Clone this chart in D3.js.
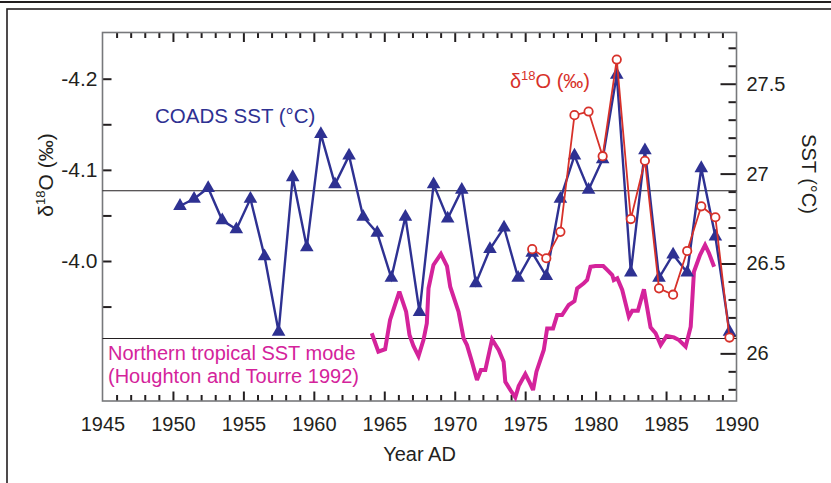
<!DOCTYPE html>
<html>
<head>
<meta charset="utf-8">
<script src="https://cdn.jsdelivr.net/npm/d3@7"></script>
<style>
  html, body { margin: 0; padding: 0; background: #fff; }
  svg { display: block; font-family: "Liberation Sans", Arial, Helvetica, sans-serif; }
</style>
</head>
<body>
<svg id="chart" width="831" height="483"></svg>
<script>
// Annual COADS sea-surface temperature (°C), 1950–1989
const sstYears = d3.range(1950, 1990);
const sstValues = [26.82, 26.86, 26.92, 26.74, 26.69, 26.86, 26.54, 26.12, 26.98, 26.59,
                   27.22, 26.94, 27.10, 26.76, 26.67, 26.42, 26.76, 26.23, 26.94, 26.75,
                   26.91, 26.39, 26.58, 26.70, 26.42, 26.56, 26.43, 26.86, 27.10, 26.91,
                   27.08, 27.55, 26.45, 27.13, 26.42, 26.55, 26.45, 27.03, 26.65, 26.12];

// Coral δ18O (‰), 1975–1989
const d18oYears = d3.range(1975, 1990);
const d18oValues = [-4.013, -4.003, -4.032, -4.160, -4.164, -4.115, -4.221, -4.046,
                    -4.110, -3.970, -3.963, -4.011, -4.060, -4.048, -3.916];

// Northern tropical SST mode (Houghton and Tourre 1992), drawn on the SST axis
const modeYears = [1964.11, 1964.58, 1965.06, 1965.41, 1966.07, 1966.55, 1966.79, 1967.07,
                   1967.43, 1967.78, 1968.02, 1968.14, 1968.49, 1969.02, 1969.45, 1969.68,
                   1970.27, 1970.63, 1970.87, 1971.22, 1971.58, 1971.86, 1972.17, 1972.65,
                   1973.12, 1973.47, 1973.59, 1973.95, 1974.30, 1974.54, 1975.01, 1975.32,
                   1975.56, 1975.80, 1976.32, 1976.56, 1976.98, 1977.27, 1977.62, 1978.09,
                   1978.50, 1978.69, 1979.16, 1979.40, 1979.64, 1979.99, 1980.54, 1980.82,
                   1981.18, 1981.29, 1981.54, 1981.89, 1982.36, 1982.60, 1983.00, 1983.43,
                   1983.90, 1984.26, 1984.62, 1985.04, 1985.56, 1985.92, 1986.39, 1986.75,
                   1986.98, 1987.41, 1987.77, 1988.05, 1988.41];
const modeValues = [26.112, 26.009, 26.023, 26.186, 26.343, 26.232, 26.102, 26.041,
                    25.985, 26.074, 26.167, 26.362, 26.492, 26.553, 26.486, 26.371,
                    26.232, 26.084, 26.046, 25.954, 25.852, 25.907, 25.907, 26.078,
                    26.019, 25.954, 25.842, 25.796, 25.755, 25.818, 25.885, 25.837,
                    25.796, 25.898, 26.019, 26.139, 26.139, 26.213, 26.213, 26.269,
                    26.291, 26.362, 26.390, 26.408, 26.482, 26.486, 26.486, 26.464,
                    26.436, 26.408, 26.418, 26.353, 26.204, 26.237, 26.237, 26.356,
                    26.145, 26.112, 26.046, 26.097, 26.089, 26.074, 26.037, 26.148,
                    26.454, 26.547, 26.603, 26.557, 26.482];

// Horizontal reference levels on the δ18O axis
const refLevels = [-4.077, -3.915];

// Tick values
const yearMajorTicks = d3.range(1945, 1995, 5);
const yearMinorTicks = d3.range(1946, 1990).filter(y => y % 5 !== 0);
const d18oTicks = [-4.2, -4.1, -4.0];
const d18oMinorTicks = [-4.15, -4.05, -3.95];
const sstTicks = [26, 26.5, 27, 27.5];
const sstMinorTicks = d3.range(258, 278).map(v => v / 10).filter(v => !sstTicks.includes(v));

const ink = "#231f20";
const blue = "#2e3192";
const red = "#d7312a";
const magenta = "#d4239b";

const svg = d3.select("#chart");

// Page frame
svg.append("line").attr("x1", 0).attr("x2", 831).attr("y1", 2).attr("y2", 2)
  .attr("stroke", ink).attr("stroke-width", 2);
svg.append("rect").attr("x", 7).attr("y", 9).attr("width", 900).attr("height", 600)
  .attr("fill", "none").attr("stroke", ink).attr("stroke-width", 1.6);

const plotLeft = 102.5, plotRight = 736.5, plotTop = 32.5, plotBottom = 401;
const x = d3.scaleLinear().domain([1945, 1990]).range([plotLeft, plotRight]);
const yL = d3.scaleLinear().domain([-3.8464, -4.2507]).range([plotBottom, plotTop]);
const yR = d3.scaleLinear().domain([25.735, 27.785]).range([plotBottom, plotTop]);

function styleAxis(g) {
  g.select(".domain").remove();
  g.selectAll(".tick line").attr("stroke", ink).attr("stroke-width", 2);
  g.selectAll(".tick text").attr("fill", ink).attr("font-size", 20)
    .attr("font-family", "Liberation Sans, Arial, sans-serif");
}

// Bottom axis: years
svg.append("g").attr("transform", `translate(0,${plotBottom})`)
  .call(d3.axisBottom(x).tickValues(yearMinorTicks).tickSizeInner(-6).tickSizeOuter(0).tickFormat(""))
  .call(styleAxis);
svg.append("g").attr("transform", `translate(0,${plotBottom})`)
  .call(d3.axisBottom(x).tickValues(yearMajorTicks).tickSizeInner(-9.5).tickSizeOuter(0)
    .tickPadding(16).tickFormat(d3.format("d")))
  .call(styleAxis)
  .call(g => g.selectAll(".tick").filter(d => d === 1945 || d === 1990).select("line").remove());

// Top axis: mirrored year ticks
svg.append("g").attr("transform", `translate(0,${plotTop})`)
  .call(d3.axisTop(x).tickValues(yearMinorTicks).tickSizeInner(-5.5).tickSizeOuter(0).tickFormat(""))
  .call(styleAxis);
svg.append("g").attr("transform", `translate(0,${plotTop})`)
  .call(d3.axisTop(x).tickValues(yearMajorTicks.filter(d => d > 1945 && d < 1990))
    .tickSizeInner(-9.5).tickSizeOuter(0).tickFormat(""))
  .call(styleAxis);

// Left axis: δ18O
svg.append("g").attr("transform", `translate(${plotLeft},0)`)
  .call(d3.axisLeft(yL).tickValues(d18oMinorTicks).tickSizeInner(-9).tickSizeOuter(0).tickFormat(""))
  .call(styleAxis);
svg.append("g").attr("transform", `translate(${plotLeft},0)`)
  .call(d3.axisLeft(yL).tickValues(d18oTicks).tickSizeInner(-9).tickSizeOuter(0)
    .tickPadding(5).tickFormat(d => d3.format(".1f")(d).replace("−", "-")))
  .call(styleAxis)
  .call(g => g.selectAll(".tick text").attr("font-size", 21));

// Right axis: SST
svg.append("g").attr("transform", `translate(${plotRight},0)`)
  .call(d3.axisRight(yR).tickValues(sstMinorTicks).tickSizeInner(-8).tickSizeOuter(0).tickFormat(""))
  .call(styleAxis);
svg.append("g").attr("transform", `translate(${plotRight},0)`)
  .call(d3.axisRight(yR).tickValues(sstTicks).tickSizeInner(-16).tickSizeOuter(0)
    .tickPadding(10).tickFormat(d => String(d)))
  .call(styleAxis);

// Plot frame
svg.append("rect").attr("x", plotLeft).attr("y", plotTop)
  .attr("width", plotRight - plotLeft).attr("height", plotBottom - plotTop)
  .attr("fill", "none").attr("stroke", "#77787b").attr("stroke-width", 1.6);

// Reference levels
svg.append("g").selectAll("line").data(refLevels).join("line")
  .attr("x1", plotLeft).attr("x2", plotRight)
  .attr("y1", d => yL(d)).attr("y2", d => yL(d))
  .attr("stroke", ink).attr("stroke-width", 1.1);

// Northern tropical SST mode
const modeData = modeYears.map((yr, i) => ({ yr, v: modeValues[i] }));
svg.append("path").datum(modeData)
  .attr("fill", "none").attr("stroke", magenta).attr("stroke-width", 4)
  .attr("stroke-linejoin", "miter").attr("stroke-miterlimit", 3)
  .attr("d", d3.line().x(d => x(d.yr)).y(d => yR(d.v)));

// COADS SST
const sstData = sstYears.map((yr, i) => ({ yr, v: sstValues[i] }));
svg.append("path").datum(sstData)
  .attr("fill", "none").attr("stroke", blue).attr("stroke-width", 2.4)
  .attr("d", d3.line().x(d => x(d.yr + 0.5)).y(d => yR(d.v)));
svg.append("g").selectAll("path").data(sstData).join("path")
  .attr("transform", d => `translate(${x(d.yr + 0.5)},${yR(d.v)})`)
  .attr("d", d3.symbol(d3.symbolTriangle, 80))
  .attr("fill", blue);

// δ18O
const d18oData = d18oYears.map((yr, i) => ({ yr, v: d18oValues[i] }));
svg.append("path").datum(d18oData)
  .attr("fill", "none").attr("stroke", red).attr("stroke-width", 1.8)
  .attr("d", d3.line().x(d => x(d.yr + 0.5)).y(d => yL(d.v)));
svg.append("g").selectAll("circle").data(d18oData).join("circle")
  .attr("cx", d => x(d.yr + 0.5)).attr("cy", d => yL(d.v)).attr("r", 4.2)
  .attr("fill", "#fff").attr("stroke", red).attr("stroke-width", 1.8);

// Axis titles
svg.append("text").attr("x", (plotLeft + plotRight) / 2).attr("y", 461)
  .attr("text-anchor", "middle").attr("font-size", 20).attr("fill", ink).text("Year AD");

const lt = svg.append("text").attr("transform", "translate(53,175) rotate(-90)")
  .attr("text-anchor", "middle").attr("font-size", 21).attr("fill", ink);
lt.append("tspan").text("δ");
lt.append("tspan").attr("font-size", 13).attr("dy", -8).text("18");
lt.append("tspan").attr("dy", 8).text("O (‰)");

svg.append("text").attr("transform", "translate(802,174) rotate(90)")
  .attr("text-anchor", "middle").attr("font-size", 20).attr("fill", ink).text("SST (°C)");

// Series labels
svg.append("text").attr("x", 155).attr("y", 123).attr("font-size", 20.5)
  .attr("fill", blue).text("COADS SST (°C)");

const rl = svg.append("text").attr("x", 590).attr("y", 88).attr("text-anchor", "end")
  .attr("font-size", 20).attr("fill", red);
rl.append("tspan").text("δ");
rl.append("tspan").attr("font-size", 13).attr("dy", -8).text("18");
rl.append("tspan").attr("dy", 8).text("O (‰)");

svg.append("text").attr("x", 108).attr("y", 360).attr("font-size", 20)
  .attr("fill", magenta).text("Northern tropical SST mode");
svg.append("text").attr("x", 108).attr("y", 383).attr("font-size", 20)
  .attr("fill", magenta).text("(Houghton and Tourre 1992)");
</script>
</body>
</html>
